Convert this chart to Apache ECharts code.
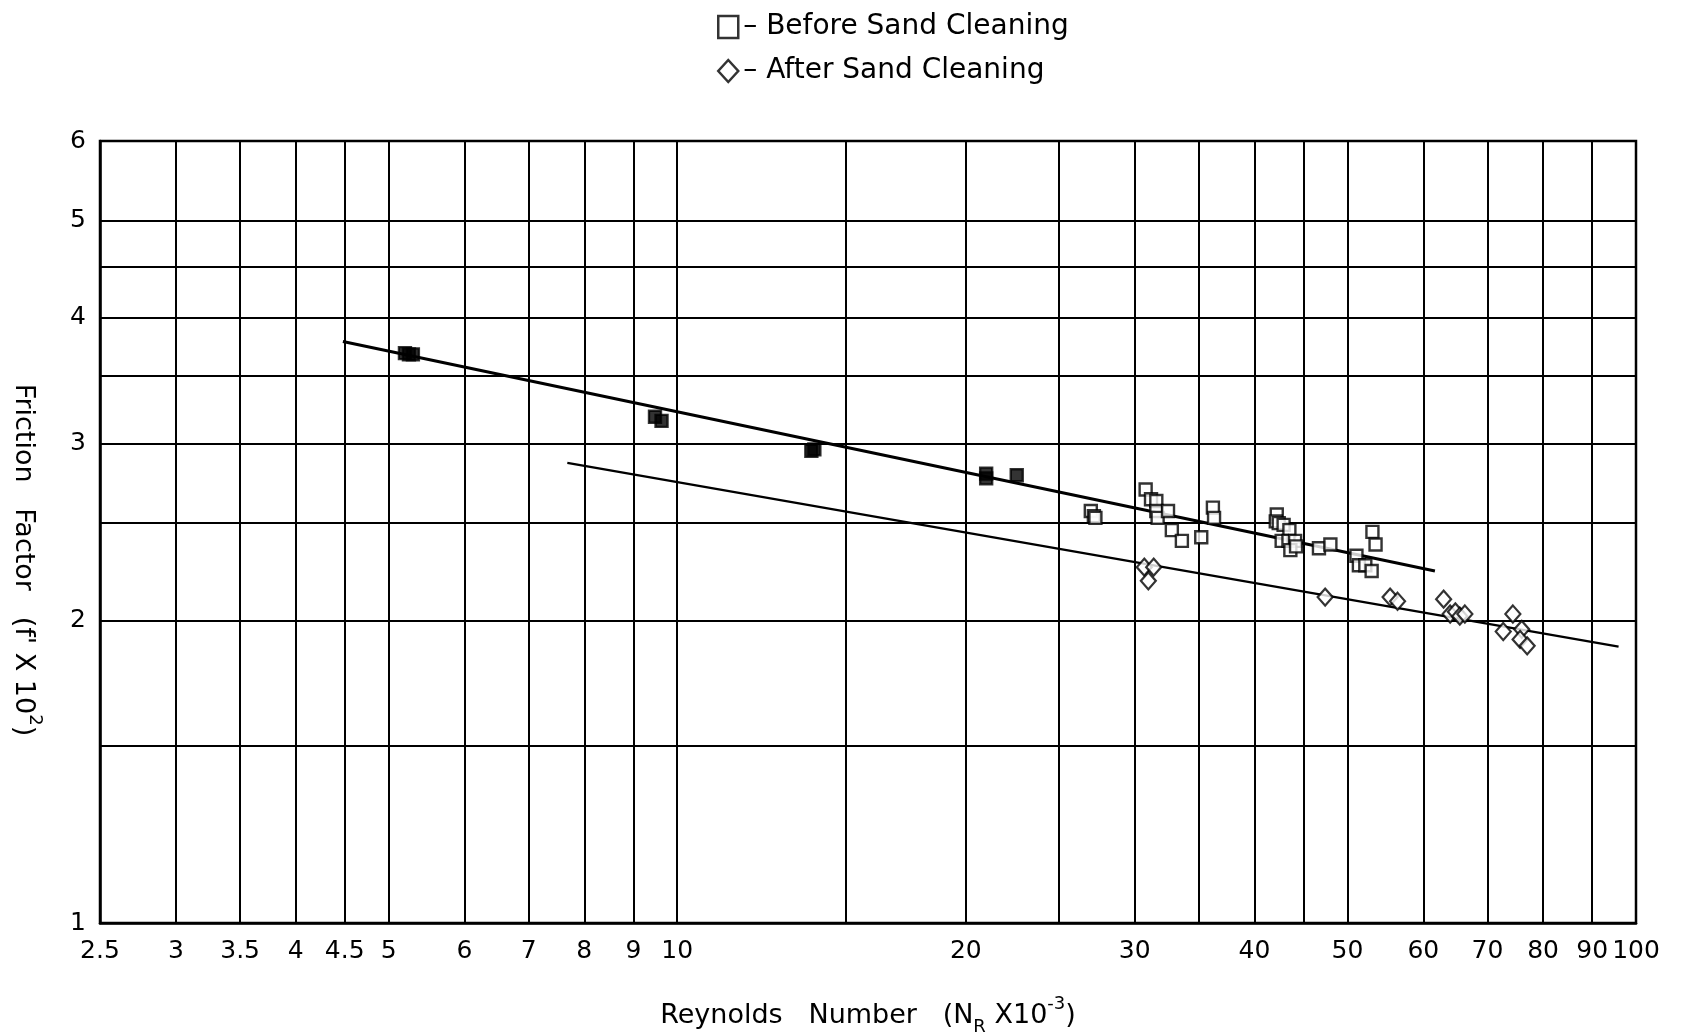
<!DOCTYPE html>
<html>
<head>
<meta charset="utf-8">
<script src="https://cdn.jsdelivr.net/npm/echarts@6/dist/echarts.min.js"></script>
<style>
  html, body { margin: 0; background: #fff; }
  #chart { width: 1687px; height: 1036px; }
</style>
</head>
<body>
<div id="chart"></div>
<script>
// axis ticks and grid lines
const xTicks = [2.5, 3, 3.5, 4, 4.5, 5, 6, 7, 8, 9, 10, 20, 30, 40, 50, 60, 70, 80, 90, 100]
const xGrid = [2.5, 3, 3.5, 4, 4.5, 5, 6, 7, 8, 9, 10, 15, 20, 25, 30, 35, 40, 45, 50, 60, 70, 80, 90, 100]
const yTicks = [1, 2, 3, 4, 5, 6]
const yGrid = [1, 1.5, 2, 2.5, 3, 3.5, 4, 4.5, 5, 6]

// before sand cleaning (squares)
const beforeRe = [5.2, 5.25, 5.3, 9.48, 9.63, 13.8, 13.9, 21.0, 21.0, 22.6,
  27.0, 27.2, 27.3, 30.8, 31.2, 31.6, 31.6, 31.7, 32.5, 32.8, 33.6, 35.2, 36.2, 36.3,
  42.2, 42.1, 42.4, 42.9, 43.5, 42.7, 43.4, 44.1, 43.6, 44.2, 46.7, 48.0,
  51.1, 51.4, 52.2, 53.0, 53.1, 53.5]
const beforeF = [3.69, 3.68, 3.68, 3.19, 3.16, 2.95, 2.96, 2.80, 2.77, 2.79,
  2.57, 2.54, 2.53, 2.70, 2.64, 2.63, 2.57, 2.53, 2.57, 2.46, 2.40, 2.42, 2.59, 2.53,
  2.55, 2.51, 2.50, 2.49, 2.46, 2.40, 2.40, 2.40, 2.35, 2.37, 2.36, 2.38,
  2.32, 2.27, 2.27, 2.24, 2.45, 2.38]

// after sand cleaning (diamonds)
const afterRe = [30.7, 31.4, 31.0, 47.4, 55.4, 56.4, 63.0, 64.0, 64.8, 65.5, 66.3,
  74.4, 72.7, 76.0, 75.7, 77.0]
const afterF = [2.26, 2.26, 2.19, 2.11, 2.11, 2.09, 2.10, 2.03, 2.04, 2.02, 2.03,
  2.03, 1.95, 1.96, 1.915, 1.887]

// fitted lines
const beforeLineRe = [4.48, 61.7]
const beforeLineF = [3.79, 2.24]
const afterLineRe = [7.68, 95.9]
const afterLineF = [2.87, 1.884]

const zip = (xs, ys) => xs.map((x, i) => [x, ys[i]])

const font = 'DejaVu Sans'
const chart = echarts.init(document.getElementById('chart'))

chart.setOption({
  animation: false,
  textStyle: { fontFamily: font, color: '#000' },
  grid: {
    left: 100, right: 51, top: 141, bottom: 113,
    outerBoundsMode: 'none',
    show: true, borderColor: '#000', borderWidth: 2.5
  },
  legend: {
    orient: 'vertical',
    left: 712, top: 8,
    itemGap: 16,
    itemWidth: 20, itemHeight: 22,
    textStyle: { fontSize: 28, color: '#000', fontFamily: font },
    formatter: name => '\u2013 ' + name,
    data: [
      { name: 'Before Sand Cleaning', icon: 'rect',
        itemStyle: { color: '#fff', borderColor: '#000', borderWidth: 2.5 } },
      { name: 'After Sand Cleaning', icon: 'diamond',
        itemStyle: { color: '#fff', borderColor: '#000', borderWidth: 2.5 } }
    ]
  },
  xAxis: {
    type: 'log', logBase: 10, min: 2.5, max: 100,
    name: 'Reynolds   Number   (N{sub|R} X10{sup|-3})',
    nameLocation: 'middle', nameGap: 72,
    nameTextStyle: {
      fontSize: 27, color: '#000',
      rich: {
        sub: { fontSize: 18, padding: [22, 0, 0, 0] },
        sup: { fontSize: 18, padding: [0, 0, 24, 0] }
      }
    },
    axisLine: { lineStyle: { color: '#000', width: 2.5 } },
    axisTick: { show: false, customValues: xGrid },
    axisLabel: {
      customValues: xTicks, color: '#000', fontSize: 25, margin: 16,
      formatter: v => String(v)
    },
    splitLine: { show: true, lineStyle: { color: '#000', width: 2 } }
  },
  yAxis: {
    type: 'log', logBase: 10, min: 1, max: 6,
    name: "Friction   Factor   (f' X 10{sup|2})",
    nameLocation: 'middle', nameGap: 56, nameRotate: -90,
    nameTextStyle: {
      fontSize: 27, color: '#000', padding: [0, 0, 0, 56],
      rich: { sup: { fontSize: 18, padding: [0, 0, 24, 0] } }
    },
    axisLine: { lineStyle: { color: '#000', width: 2.5 } },
    axisTick: { show: false, customValues: yGrid },
    axisLabel: {
      customValues: yTicks, color: '#000', fontSize: 25, margin: 14,
      formatter: v => String(v)
    },
    splitLine: { show: true, lineStyle: { color: '#000', width: 2 } }
  },
  series: [
    {
      name: 'before fit', type: 'line', data: zip(beforeLineRe, beforeLineF),
      showSymbol: false, lineStyle: { color: '#000', width: 3 }, z: 3
    },
    {
      name: 'after fit', type: 'line', data: zip(afterLineRe, afterLineF),
      showSymbol: false, lineStyle: { color: '#000', width: 2.2 }, z: 3
    },
    {
      name: 'Before Sand Cleaning', type: 'scatter', symbol: 'rect', symbolSize: 12,
      data: zip(beforeRe, beforeF),
      itemStyle: {
        color: p => (p.value[0] < 25 ? '#000' : '#fff'),
        borderColor: '#000', borderWidth: 2.4
      },
      z: 5
    },
    {
      name: 'After Sand Cleaning', type: 'scatter', symbol: 'diamond', symbolSize: [15, 17],
      data: zip(afterRe, afterF),
      itemStyle: { color: '#fff', borderColor: '#000', borderWidth: 2.2 },
      z: 5
    }
  ]
})
</script>
</body>
</html>
